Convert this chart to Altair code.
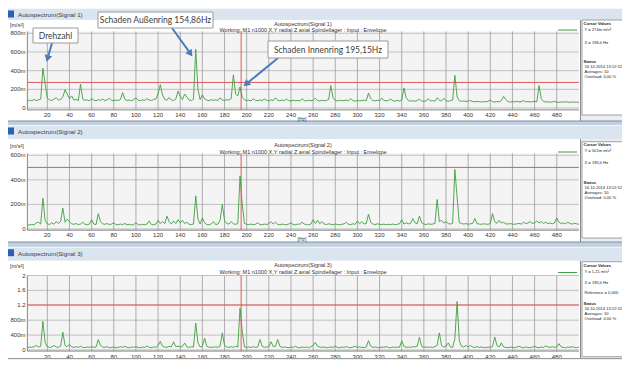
import altair as alt
import pandas as pd

# ---------------- data ----------------
FREQ = list(range(2, 501, 2))  # Hz grid, 2 Hz resolution

SIG1 = [  # Signal 1, m m/s^2
    70, 85, 78, 92, 80, 88, 95, 425, 260, 105, 88, 80, 95, 112, 85, 90, 120, 195, 150, 100, 130, 85, 92, 80, 255,
    95, 82, 88, 76, 100, 84, 78, 90, 82, 96, 80, 88, 105, 84, 78, 86, 80, 92, 165, 95, 80, 86, 78, 90, 108,
    84, 78, 88, 82, 100, 86, 80, 92, 98, 150, 250, 140, 92, 84, 112, 86, 80, 95, 180, 125, 90, 150, 118, 86, 80,
    95, 630, 200, 90, 140, 100, 84, 78, 90, 82, 88, 80, 110, 86, 80, 90, 84, 100, 355, 150, 130, 225, 115, 88, 80,
    84, 76, 100, 82, 78, 86, 80, 96, 82, 76, 88, 80, 110, 84, 78, 86, 80, 95, 80, 75, 84, 78, 82, 76, 100,
    80, 76, 84, 78, 82, 105, 80, 75, 84, 78, 82, 90, 240, 110, 82, 76, 84, 78, 80, 86, 78, 100, 80, 74, 82,
    76, 80, 84, 78, 160, 100, 80, 76, 84, 78, 105, 82, 76, 80, 95, 78, 74, 82, 76, 84, 215, 110, 80, 74, 78,
    72, 80, 95, 76, 72, 78, 100, 76, 80, 74, 110, 82, 76, 105, 78, 72, 80, 84, 350, 120, 78, 72, 76, 70, 74,
    80, 70, 66, 72, 68, 64, 70, 66, 72, 85, 68, 64, 70, 66, 80, 125, 90, 68, 64, 70, 66, 72, 64, 68, 80,
    66, 70, 64, 68, 72, 66, 240, 100, 70, 64, 68, 62, 66, 70, 64, 60, 66, 62, 68, 64, 60, 66, 62, 64, 60,
]
SIG2 = [  # Signal 2, m m/s^2
    30, 34, 38, 32, 50, 55, 40, 250, 70, 42, 36, 50, 38, 60, 45, 60, 170, 55, 80, 60, 42, 38, 44, 36, 40,
    55, 38, 34, 40, 75, 40, 36, 125, 60, 42, 38, 44, 36, 40, 50, 36, 34, 40, 36, 45, 34, 38, 32, 36, 50,
    36, 32, 38, 34, 40, 65, 36, 34, 40, 70, 45, 60, 42, 105, 60, 40, 65, 44, 75, 50, 70, 44, 55, 38, 36,
    40, 270, 80, 40, 90, 50, 36, 34, 40, 60, 36, 40, 70, 200, 70, 44, 40, 60, 42, 38, 44, 430, 200, 45, 38,
    36, 40, 34, 38, 50, 36, 34, 40, 36, 44, 60, 40, 55, 38, 34, 40, 36, 34, 40, 50, 36, 34, 40, 38, 55,
    40, 36, 34, 40, 75, 45, 70, 42, 60, 40, 36, 42, 38, 34, 40, 36, 34, 38, 42, 55, 38, 36, 42, 38, 65,
    42, 60, 40, 45, 120, 55, 40, 36, 42, 38, 36, 40, 34, 38, 36, 40, 34, 38, 42, 75, 40, 50, 42, 45, 85,
    50, 42, 105, 50, 40, 36, 42, 38, 40, 45, 240, 60, 70, 48, 60, 44, 40, 46, 485, 260, 50, 45, 40, 44, 38,
    42, 45, 85, 44, 40, 38, 42, 40, 38, 45, 125, 60, 45, 70, 48, 55, 42, 40, 44, 40, 38, 42, 45, 40, 55,
    44, 48, 60, 45, 50, 65, 48, 60, 45, 55, 44, 48, 42, 50, 90, 55, 45, 48, 42, 55, 44, 40, 46, 42, 38,
]
SIG3 = [  # Signal 3, m/s^2
    0.06, 0.08, 0.07, 0.09, 0.12, 0.08, 0.10, 0.77, 0.20, 0.09, 0.07, 0.08, 0.12, 0.08, 0.07, 0.10, 0.48, 0.12, 0.09, 0.15, 0.08, 0.07, 0.09, 0.07, 0.10,
    0.07, 0.06, 0.08, 0.07, 0.09, 0.07, 0.08, 0.28, 0.12, 0.08, 0.07, 0.09, 0.06, 0.07, 0.08, 0.06, 0.07, 0.09, 0.07, 0.10, 0.07, 0.06, 0.08, 0.07, 0.09,
    0.07, 0.06, 0.08, 0.07, 0.11, 0.07, 0.06, 0.08, 0.07, 0.12, 0.23, 0.10, 0.08, 0.07, 0.10, 0.08, 0.22, 0.09, 0.10, 0.08, 0.09, 0.19, 0.08, 0.07, 0.09,
    0.08, 0.72, 0.20, 0.08, 0.10, 0.32, 0.10, 0.07, 0.08, 0.07, 0.09, 0.07, 0.10, 0.46, 0.12, 0.08, 0.07, 0.09, 0.07, 0.10, 0.08, 1.12, 0.50, 0.08, 0.07,
    0.08, 0.07, 0.09, 0.07, 0.08, 0.28, 0.10, 0.07, 0.08, 0.09, 0.22, 0.09, 0.10, 0.28, 0.10, 0.07, 0.08, 0.07, 0.06, 0.08, 0.07, 0.10, 0.07, 0.06, 0.08,
    0.07, 0.08, 0.06, 0.09, 0.12, 0.20, 0.10, 0.08, 0.07, 0.08, 0.06, 0.07, 0.08, 0.07, 0.10, 0.07, 0.06, 0.08, 0.07, 0.09, 0.07, 0.06, 0.08, 0.10, 0.07,
    0.08, 0.07, 0.06, 0.08, 0.25, 0.10, 0.07, 0.08, 0.07, 0.06, 0.08, 0.07, 0.09, 0.07, 0.06, 0.08, 0.07, 0.08, 0.07, 0.25, 0.10, 0.07, 0.08, 0.07, 0.09,
    0.08, 0.10, 0.34, 0.10, 0.07, 0.08, 0.07, 0.08, 0.07, 0.09, 0.12, 0.46, 0.12, 0.08, 0.10, 0.19, 0.08, 0.07, 0.30, 1.30, 0.25, 0.10, 0.08, 0.12, 0.08,
    0.12, 0.08, 0.07, 0.09, 0.07, 0.08, 0.07, 0.06, 0.08, 0.07, 0.09, 0.35, 0.12, 0.08, 0.19, 0.08, 0.07, 0.06, 0.08, 0.07, 0.06, 0.08, 0.10, 0.07, 0.06,
    0.08, 0.07, 0.06, 0.08, 0.10, 0.07, 0.06, 0.08, 0.07, 0.11, 0.08, 0.07, 0.09, 0.07, 0.08, 0.17, 0.08, 0.07, 0.06, 0.08, 0.07, 0.09, 0.07, 0.06, 0.08,
]

X_TICKS = [20, 40, 60, 80, 100, 120, 140, 160, 180, 200, 220, 240, 260, 280, 300, 320, 340, 360, 380, 400, 420, 440, 460, 480]
Y1_TICKS = [0, 200, 400, 600, 800]
Y1_LABELS = ["0", "200m", "400m", "600m", "800m"]
Y2_TICKS = [0, 200, 400, 600]
Y2_LABELS = ["0", "200m", "400m", "600m"]
Y3_TICKS = [0, 0.4, 0.8, 1.2, 1.6, 2.0]
Y3_LABELS = ["0", "400m", "800m", "1.2", "1.6", "2"]
THRESHOLDS = [274, 501, 1.21]
CURSOR_HZ = 195
SIGNAL_NAMES = ["Autospectrum(Signal 1)", "Autospectrum(Signal 2)", "Autospectrum(Signal 3)"]
SUBTITLE = "Working:  M1 n1000 X,Y radial  Z axial  Spindellager : Input : Envelope"
CURSOR_TEXT = [
    [("Cursor Values", True), ("Y = 274m m/s²", False), ("X = 196,0 Hz", False), ("Status", True),
     ("16.10.2014 13:12:52", False), ("Averages: 10", False), ("Overload: 0,00 %", False)],
    [("Cursor Values", True), ("Y = 501m m/s²", False), ("X = 195,0 Hz", False), ("Status", True),
     ("16.10.2014 13:12:52", False), ("Averages: 10", False), ("Overload: 0,00 %", False)],
    [("Cursor Values", True), ("Y = 1,21 m/s²", False), ("X = 195,0 Hz", False), ("Reference = 0,000", False),
     ("Status", True), ("16.10.2014 13:12:52", False), ("Averages: 10", False), ("Overload: 0,00 %", False)],
]
ANNOTATIONS = ["Drehzahl", "Schaden Außenring 154,86Hz", "Schaden Innenring 195,15Hz"]

# ---------------- styling / layout ----------------
W, H = 614, 352
PX0, PX1 = 19.4, 570.9
GREEN = "#3f9e3f"
RED = "#dc5a5a"
FONT = "Liberation Sans"
ONE = alt.Data(values=[{"k": 0}])
XS = alt.Scale(domain=[2, 500], range=[PX0, PX1], nice=False, zero=False)

PANELS = [
    dict(sig=SIG1, dom=[-20, 820], rng=[101.9, 23.4], ticks=Y1_TICKS, labels=Y1_LABELS,
         bar=(0, 12), white=(12, 113), box=(12, 107), t1=16, t2=21.5, xlab=106.5, hz=111,
         cur=[16, 21.5, 34.7, 53.7, 58.7, 63.7, 68.7]),
    dict(sig=SIG2, dom=[-10, 615], rng=[222.2, 145.4], ticks=Y2_TICKS, labels=Y2_LABELS,
         bar=(117, 131), white=(131, 234), box=(133.7, 230), t1=137, t2=143.5, xlab=226.8, hz=231.3,
         cur=[137, 142.5, 154.7, 174.7, 179.7, 184.7, 189.7]),
    dict(sig=SIG3, dom=[-0.03, 2.0], rng=[343.1, 267.5], ticks=Y3_TICKS, labels=Y3_LABELS,
         bar=(238.7, 252.7), white=(252.7, 350.5), box=(253.7, 348.7), t1=257, t2=264, xlab=349, hz=None,
         cur=[258, 263.5, 274.7, 285.3, 296, 301, 306, 311]),
]


def rect(x0, y0, x1, y1, fill, stroke=None, sw=1.0):
    kw = dict(fill=fill)
    if stroke:
        kw.update(stroke=stroke, strokeWidth=sw)
    else:
        kw.update(strokeWidth=0)
    return alt.Chart(ONE).mark_rect(**kw).encode(
        x=alt.value(x0), x2=alt.value(x1), y=alt.value(y0), y2=alt.value(y1))


def seg(x0, y0, x1, y1, color, sw=1.0):
    return alt.Chart(ONE).mark_rule(color=color, strokeWidth=sw).encode(
        x=alt.value(x0), y=alt.value(y0), x2=alt.value(x1), y2=alt.value(y1))


def text(s, x, y, size=5.5, color="#333333", bold=False, align="left", font=FONT):
    return alt.Chart(ONE).mark_text(
        align=align, baseline="middle", fontSize=size, font=font,
        fontWeight="bold" if bold else "normal", color=color).encode(
        x=alt.value(x), y=alt.value(y), text=alt.value(s))


layers = []

# window chrome
for i, p in enumerate(PANELS):
    b0, b1 = p["bar"]
    w0, w1 = p["white"]
    layers.append(rect(0, b0, W, b1, "#dae5f0"))
    layers.append(seg(0, b0 + 0.5, W, b0 + 0.5, "#f4f8fc", 1))
    layers.append(rect(0, w0, 572, w1, "#ffffff"))
    layers.append(seg(572.5, w0, 572.5, w1, "#8a8a8a", 1))
    layers.append(rect(574, p["box"][0], 620, p["box"][1], "#ffffff", "#a0a0a0", 1))
    layers.append(rect(0, b0 + 2.5, 6, b0 + 9.5, "#2f5fb3"))
    layers.append(text(SIGNAL_NAMES[i], 10, b0 + 7, size=6.2, color="#3a3a3a"))
layers.append(rect(0, 113, W, 117, "#c2d0df"))
layers.append(seg(0, 113, W, 113, "#7f8fa3", 1))
layers.append(rect(0, 234, W, 238.7, "#c2d0df"))
layers.append(seg(0, 234, W, 234, "#7f8fa3", 1))

# plot panels
for i, p in enumerate(PANELS):
    ys = alt.Scale(domain=p["dom"], range=p["rng"], nice=False, zero=False)
    top, bot = p["rng"][1], p["rng"][0]
    layers.append(rect(PX0, top, PX1, bot, "#f4f4f4"))
    tick_df = pd.DataFrame({"v": p["ticks"], "t": p["labels"]})
    xt_df = pd.DataFrame({"hz": X_TICKS, "t": [str(t) for t in X_TICKS]})
    layers.append(alt.Chart(tick_df).mark_rule(color="#b4b4b4", strokeWidth=0.8).encode(
        y=alt.Y("v:Q", scale=ys, axis=None), x=alt.value(PX0), x2=alt.value(PX1)))
    layers.append(alt.Chart(xt_df).mark_rule(color="#9c9c9c", strokeWidth=0.8).encode(
        x=alt.X("hz:Q", scale=XS, axis=None), y=alt.value(top), y2=alt.value(bot)))
    layers.append(alt.Chart(pd.DataFrame({"v": [THRESHOLDS[i]]})).mark_rule(color=RED, strokeWidth=1).encode(
        y=alt.Y("v:Q", scale=ys, axis=None), x=alt.value(PX0), x2=alt.value(PX1)))
    layers.append(alt.Chart(pd.DataFrame({"hz": [CURSOR_HZ]})).mark_rule(color=RED, strokeWidth=1).encode(
        x=alt.X("hz:Q", scale=XS, axis=None), y=alt.value(top), y2=alt.value(bot)))
    layers.append(alt.Chart(pd.DataFrame({"hz": FREQ, "v": p["sig"]})).mark_line(
        color=GREEN, strokeWidth=0.9).encode(
        x=alt.X("hz:Q", scale=XS, axis=None), y=alt.Y("v:Q", scale=ys, axis=None)))
    # axis lines
    layers.append(seg(PX0, top, PX0, bot, "#6f6f6f", 0.8))
    layers.append(seg(PX0, bot, PX1, bot, "#6f6f6f", 0.8))
    # labels
    layers.append(alt.Chart(tick_df).mark_text(
        align="right", baseline="middle", fontSize=6, font=FONT, color="#333333").encode(
        y=alt.Y("v:Q", scale=ys, axis=None), x=alt.value(17.5), text="t:N"))
    layers.append(alt.Chart(xt_df).mark_text(
        align="center", baseline="middle", fontSize=6, font=FONT, color="#333333").encode(
        x=alt.X("hz:Q", scale=XS, axis=None), y=alt.value(p["xlab"]), text="t:N"))
    if p["hz"] is not None:
        layers.append(text("[Hz]", 294, p["hz"], size=5, align="center"))
    layers.append(text("[m/s²]", 2, p["t1"] + 1, size=5.5))
    layers.append(text(SIGNAL_NAMES[i], 295, p["t1"], size=5.5, align="center"))
    layers.append(text(SUBTITLE, 295, p["t2"], size=5.5, align="center"))
    layers.append(seg(550, p["t2"] + 0.5, 569, p["t2"] + 0.5, GREEN, 1))
    for (s, bold), yy in zip(CURSOR_TEXT[i], p["cur"]):
        layers.append(text(s, 575.5 if bold else 576.5, yy, size=4.1, bold=bold, color="#222222"))

# status bar
layers.append(rect(0, 350.5, W, H, "#eeeeee"))
layers.append(seg(0, 350.5, W, 350.5, "#9a9a9a", 1))

# annotation callouts
ARROW = "#4a7ebb"
BOXES = [(25, 20, 70, 35), (90, 4, 205, 20), (260, 33, 380, 50)]
ARROWS = [((44, 35), (39.5, 50.6), 16), ((164, 20), (182.5, 45.7), 324), ((270, 50), (238.1, 76.1), 48)]
for (bx0, by0, bx1, by1), label, ((sx, sy), (hx, hy), ang) in zip(BOXES, ANNOTATIONS, ARROWS):
    layers.append(seg(sx, sy, hx, hy, ARROW, 2))
    layers.append(alt.Chart(ONE).mark_point(shape="triangle-down", filled=True, size=60, angle=ang,
                                            color=ARROW, opacity=1).encode(x=alt.value(hx), y=alt.value(hy)))
    layers.append(rect(bx0, by0, bx1, by1, "#ffffff", "#9a9a9a", 1))
    layers.append(text(label, (bx0 + bx1) / 2, (by0 + by1) / 2, size=8.5, color="#404040",
                       align="center", font="Lato"))

chart = alt.layer(*layers).resolve_scale(y="independent").properties(
    width=W, height=H, autosize=alt.AutoSizeParams(type="none"), padding=0,
    background="#e9eef4").configure_view(stroke=None)

chart.save("out.html", embed_options={"renderer": "svg", "actions": False})
